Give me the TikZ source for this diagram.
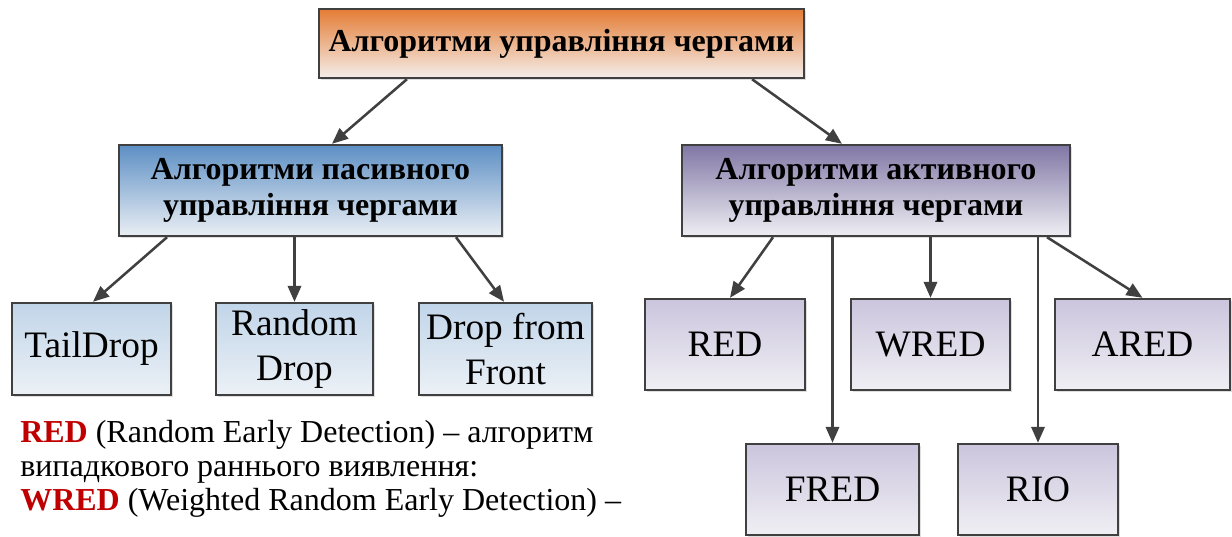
\documentclass[tikz,border=0pt]{standalone}
\usepackage{fontspec}
\setmainfont{Liberation Serif}
\usetikzlibrary{arrows.meta,shadows}
\definecolor{boxline}{HTML}{404040}
\definecolor{arrowc}{HTML}{404040}
\definecolor{orT}{HTML}{E47C35}
\definecolor{orB}{HTML}{F4EEEA}
\definecolor{blT}{HTML}{5D8FC4}
\definecolor{blB}{HTML}{EAEFF4}
\definecolor{puT}{HTML}{8077A5}
\definecolor{puB}{HTML}{EFEEF3}
\definecolor{lbT}{HTML}{C1D5E9}
\definecolor{lbB}{HTML}{ECF1F6}
\definecolor{lpT}{HTML}{CBC5DD}
\definecolor{lpB}{HTML}{F0EFF4}
\definecolor{redc}{HTML}{C00000}
\begin{document}
\begin{tikzpicture}[x=0.75pt,y=-0.75pt,
  box/.style={draw=boxline, line width=1.8pt, inner sep=0pt, align=center,
    drop shadow={opacity=0.25, shadow xshift=1.5pt, shadow yshift=-1.5pt}},
  hdr/.style={box, font=\fontsize{24}{27.5}\selectfont\bfseries},
  leaf/.style={box, font=\fontsize{28}{33.5}\selectfont},
  arr/.style={draw=arrowc, line width=1.9pt, -{Triangle[length=12pt,width=10pt]}},
  txt/.style={inner sep=0pt, font=\fontsize{24}{25.5}\selectfont},
]
\useasboundingbox (0,0) rectangle (1232,536);

% header boxes
\node[hdr, shade, top color=orT, bottom color=orB, minimum width=363.75pt, minimum height=51.75pt] (top) at (561.5,43.5) {Алгоритми управління чергами};
\node[hdr, shade, top color=blT, bottom color=blB, minimum width=287.25pt, minimum height=68.25pt] (pas) at (310.5,190.5) {Алгоритми пасивного\\управління чергами};
\node[hdr, shade, top color=puT, bottom color=puB, minimum width=291pt, minimum height=68.25pt] (act) at (876,190.5) {Алгоритми активного\\управління чергами};

% passive leaves
\node[leaf, shade, top color=lbT, bottom color=lbB, minimum width=119.25pt, minimum height=69pt] (tail) at (91.5,349) {TailDrop};
\node[leaf, shade, top color=lbT, bottom color=lbB, minimum width=117.75pt, minimum height=69pt] (rand) at (294.5,349) {Random\\Drop};
\node[leaf, shade, top color=lbT, bottom color=lbB, minimum width=129.75pt, minimum height=69pt] (dff) at (505.5,349) {Drop from\\Front};

% active leaves
\node[leaf, shade, top color=lpT, bottom color=lpB, minimum width=120pt, minimum height=68.25pt] (red) at (725,344.5) {RED};
\node[leaf, shade, top color=lpT, bottom color=lpB, minimum width=119.25pt, minimum height=68.25pt] (wred) at (930.5,344.5) {WRED};
\node[leaf, shade, top color=lpT, bottom color=lpB, minimum width=131.25pt, minimum height=68.25pt] (ared) at (1142.5,344.5) {ARED};
\node[leaf, shade, top color=lpT, bottom color=lpB, minimum width=129.75pt, minimum height=68.25pt] (fred) at (832.5,489.5) {FRED};
\node[leaf, shade, top color=lpT, bottom color=lpB, minimum width=120pt, minimum height=68.25pt] (rio) at (1038,489.5) {RIO};

% connectors
\draw[arr] ([xshift=-115.9pt]top.south) -- ([xshift=16.1pt]pas.north);
\draw[arr] ([xshift=142.9pt]top.south) -- ([xshift=-25.5pt]act.north);

\draw[arr] ([xshift=-107.6pt]pas.south) -- ([xshift=1.1pt]tail.north);
\draw[arr] (pas.south -| rand.north) -- (rand.north);
\draw[arr] ([xshift=109.1pt]pas.south) -- ([xshift=-1.1pt]dff.north);

\draw[arr] ([xshift=-77.25pt]act.south) -- ([xshift=3.75pt]red.north);
\draw[arr] (act.south -| fred.north) -- (fred.north);
\draw[arr] (act.south -| wred.north) -- (wred.north);
\draw[arr] (act.south -| rio.north) -- (rio.north);
\draw[arr] ([xshift=128.25pt]act.south) -- (ared.north);

% explanatory text
\node[txt, anchor=base west] (l1) at (20,442) {\textcolor{redc}{\textbf{RED}} (Random Early Detection) – алгоритм};
\node[txt, anchor=base west] (l2) at (20,476) {випадкового раннього виявлення:};
\node[txt, anchor=base west] (l3) at (20,510) {\textcolor{redc}{\textbf{WRED}} (Weighted Random Early Detection) –};
\end{tikzpicture}
\end{document}
